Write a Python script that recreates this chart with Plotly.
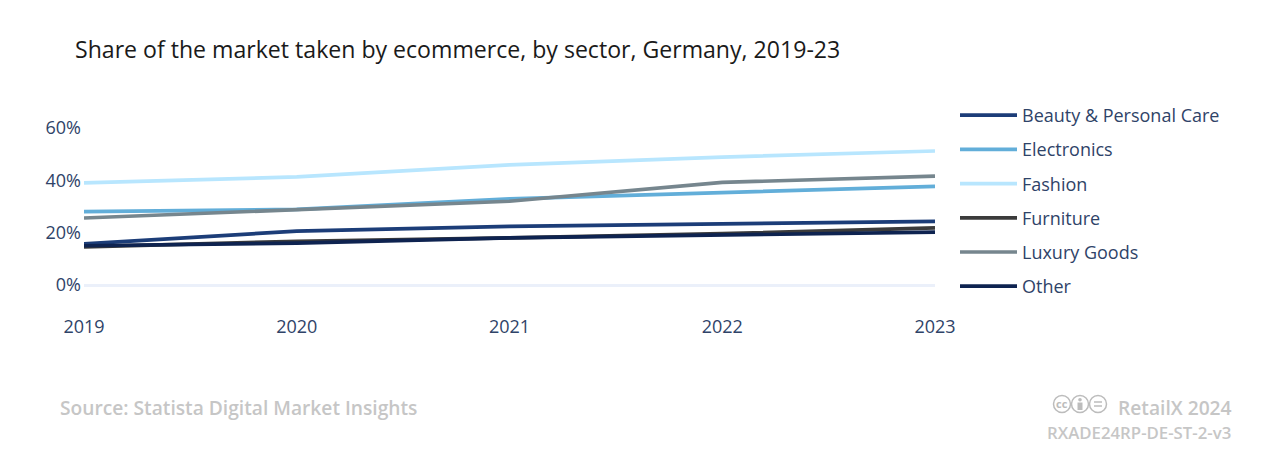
import plotly.graph_objects as go

years = [2019, 2020, 2021, 2022, 2023]
beauty = [15.7, 20.6, 22.4, 23.2, 24.3]
electronics = [28.0, 28.9, 32.9, 35.2, 37.7]
fashion = [39.0, 41.3, 45.9, 48.9, 51.2]
furniture = [14.6, 16.7, 18.0, 19.6, 21.8]
luxury = [25.6, 28.9, 32.0, 39.2, 41.6]
other = [15.0, 16.0, 18.0, 19.2, 20.2]

names = ["Beauty & Personal Care", "Electronics", "Fashion", "Furniture", "Luxury Goods", "Other"]
colors = ["#1c3d78", "#62aed9", "#b8e6fe", "#3b3b3b", "#76868e", "#0e2350"]
series = [beauty, electronics, fashion, furniture, luxury, other]
title = "Share of the market taken by ecommerce, by sector, Germany, 2019-23"
source = "Source: Statista Digital Market Insights"
credit = "RetailX 2024"
code = "RXADE24RP-DE-ST-2-v3"

FONT = "Open Sans"
TXT = "#2f4368"
OFF = 8  # page body margin
W, H = 1271, 456
L, R, T, B = 84 - OFF, 935 - OFF, 120 - OFF, 314 - OFF

def px(x): return (x - OFF - L) / (R - L)
def py(y): return (B - (y - OFF)) / (B - T)

fig = go.Figure()
for n, c, s in zip(names, colors, series):
    fig.add_trace(go.Scatter(x=years, y=s, name=n, mode="lines", legendgroup=n,
                             line=dict(color=c, width=3.7), hoverinfo="x+y+name"))

fig.update_layout(
    width=W, height=H, autosize=False, paper_bgcolor="white", plot_bgcolor="white",
    margin=dict(l=L, r=W - R, t=T, b=H - B),
    font=dict(family=FONT, color=TXT, size=18),
    title=dict(text=title, x=(75 - OFF) / W, xanchor="left", y=1 - (50 - OFF) / H, yanchor="middle",
               font=dict(family=FONT, size=23.1, color="#1a1a1a")),
    legend=dict(x=px(955), xref="paper", y=py(97), yref="paper", yanchor="top",
                traceorder="grouped", tracegroupgap=7.8, itemwidth=57,
                font=dict(size=18, color=TXT)),
    showlegend=True,
)
fig.update_xaxes(range=[2019, 2023], tickvals=years, showgrid=False, zeroline=False,
                 showline=False, ticks="", tickfont=dict(size=18, color=TXT))
fig.update_yaxes(range=[(285 - 314) / 2.617, (285 - 120) / 2.617], tickvals=[0, 20, 40, 60],
                 ticktext=["0%", "20%", "40%", "60%"], showgrid=False,
                 zeroline=True, zerolinecolor="#ebf0fa", zerolinewidth=3,
                 showline=False, ticks="", ticklabelstandoff=2, tickfont=dict(size=18, color=TXT))

GREY = "#c6c6c6"
def note(text, x, y, size, anchor):
    fig.add_annotation(text=text, xref="paper", yref="paper", x=px(x), y=py(y), xanchor=anchor,
                       yanchor="middle", showarrow=False,
                       font=dict(family=FONT, size=size, color=GREY, weight=600))
note(source, 58, 407, 19.2, "left")
note(credit, 1234, 407.5, 19.2, "right")
note(code, 1233, 432, 16.8, "right")

# Creative Commons badges
ICON = "#bcbcbc"
for cx in (1062, 1080, 1098):
    fig.add_shape(type="circle", xref="paper", yref="paper", x0=px(cx - 8.5), x1=px(cx + 8.5),
                  y0=py(404 + 8.5), y1=py(404 - 8.5), line=dict(color=ICON, width=1.5))
fig.add_annotation(text="cc", xref="paper", yref="paper", x=px(1062), y=py(403.5), xanchor="center",
                   yanchor="middle", showarrow=False, font=dict(family=FONT, size=11, color=ICON, weight=700))
fig.add_shape(type="circle", xref="paper", yref="paper", x0=px(1078.2), x1=px(1081.8), y0=py(401.6), y1=py(398),
              fillcolor=ICON, line_width=0)
fig.add_shape(type="rect", xref="paper", yref="paper", x0=px(1077.5), x1=px(1082.5), y0=py(410), y1=py(402.5),
              fillcolor=ICON, line_width=0)
for yy in (402, 406):
    fig.add_shape(type="line", xref="paper", yref="paper", x0=px(1094), x1=px(1102), y0=py(yy), y1=py(yy),
                  line=dict(color=ICON, width=1.5))

fig.write_html("out.html")
